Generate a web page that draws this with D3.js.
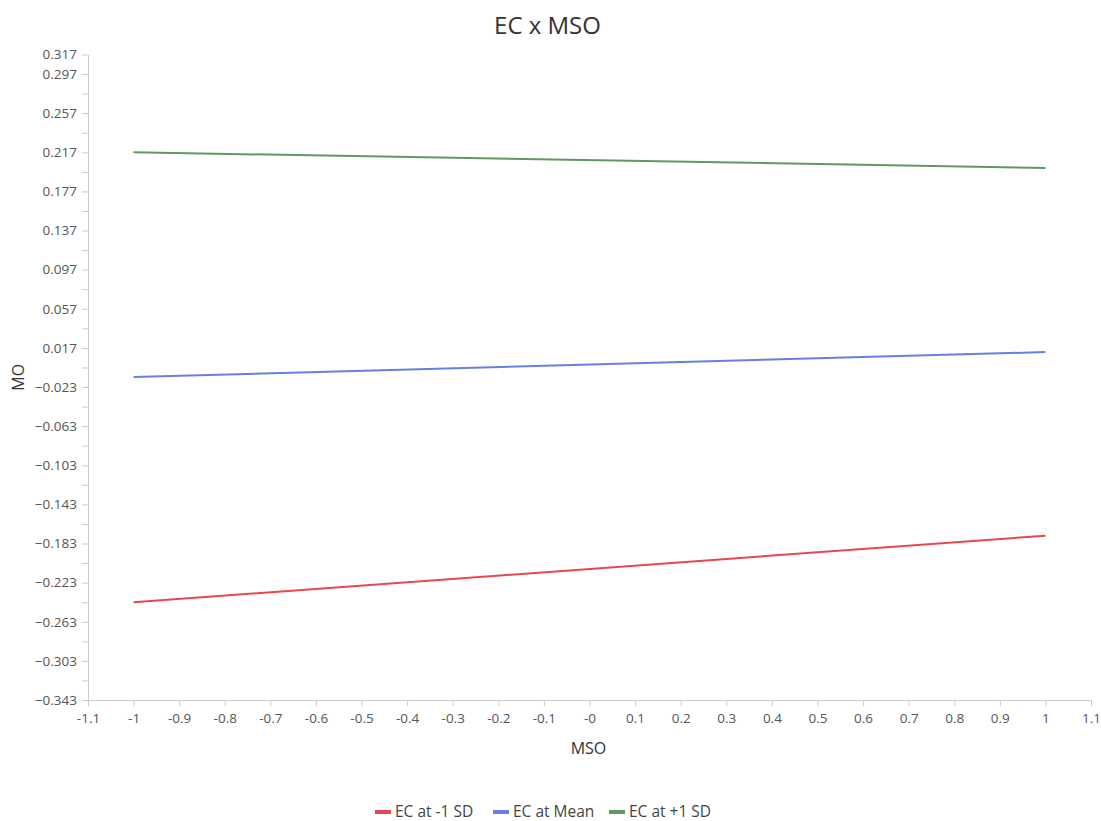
<!DOCTYPE html>
<html>
<head>
<meta charset="utf-8">
<script src="https://cdn.jsdelivr.net/npm/d3@7"></script>
<style>
  body { margin: 0; background: #fff; font-family: "Open Sans", "Noto Sans", sans-serif; }
  .axis text { fill: #555; font-size: 13.5px; font-family: "Open Sans", "Noto Sans", sans-serif; }
  .axis path, .axis line { stroke: #ccc; }
</style>
</head>
<body>
<div id="chart"></div>
<script>
// values
var xValues = [-1, 1];
var seriesNames = ["EC at -1 SD", "EC at Mean", "EC at +1 SD"];
var lowValues = [-0.243, -0.175];
var meanValues = [-0.0128, 0.0127];
var highValues = [0.217, 0.201];
var seriesColors = ["#e8474b", "#6580e6", "#5e9a5e"];

var xTicks = [-1.1, -1, -0.9, -0.8, -0.7, -0.6, -0.5, -0.4, -0.3, -0.2, -0.1, 0,
              0.1, 0.2, 0.3, 0.4, 0.5, 0.6, 0.7, 0.8, 0.9, 1, 1.1];
var xTickLabels = ["-1.1", "-1", "-0.9", "-0.8", "-0.7", "-0.6", "-0.5", "-0.4", "-0.3", "-0.2", "-0.1", "-0",
                   "0.1", "0.2", "0.3", "0.4", "0.5", "0.6", "0.7", "0.8", "0.9", "1", "1.1"];
var yLabelTicks = [0.317, 0.297, 0.257, 0.217, 0.177, 0.137, 0.097, 0.057, 0.017, -0.023,
                   -0.063, -0.103, -0.143, -0.183, -0.223, -0.263, -0.303, -0.343];
var yMinorTicks = [0.277, 0.237, 0.197, 0.157, 0.117, 0.077, 0.037, -0.003, -0.043,
                   -0.083, -0.123, -0.163, -0.203, -0.243, -0.283, -0.323];

var width = 1101, height = 821;
var margin = {top: 54.5, right: 10, bottom: 121, left: 88};

var svg = d3.select("#chart").append("svg")
    .attr("width", width)
    .attr("height", height);

var x = d3.scaleLinear().domain([-1.1, 1.1]).range([margin.left, width - margin.right]);
var y = d3.scaleLinear().domain([-0.343, 0.317]).range([height - margin.bottom, margin.top]);

svg.append("text")
    .attr("x", width / 2 - 3)
    .attr("y", 34)
    .attr("text-anchor", "middle")
    .style("font-size", "24px")
    .style("fill", "#333")
    .text("EC x MSO");

svg.append("g")
    .attr("class", "x axis")
    .attr("transform", "translate(0," + y(-0.343) + ")")
    .call(d3.axisBottom(x).tickValues(xTicks).tickSize(6).tickSizeOuter(0)
      .tickFormat(function(d, i) { return xTickLabels[i]; }))
    .selectAll("text").attr("dy", "1.05em");

svg.append("g")
    .attr("class", "y axis")
    .attr("transform", "translate(" + x(-1.1) + ",0)")
    .call(d3.axisLeft(y).tickValues(yLabelTicks).tickSize(6).tickPadding(5).tickSizeOuter(0)
      .tickFormat(d3.format(".3f")));

svg.append("g")
    .attr("class", "y axis minor")
    .attr("transform", "translate(" + x(-1.1) + ",0)")
    .call(d3.axisLeft(y).tickValues(yMinorTicks).tickSize(6).tickSizeOuter(0).tickFormat(""))
    .select(".domain").remove();

svg.append("text")
    .attr("x", x(0) - 1)
    .attr("y", 754)
    .attr("text-anchor", "middle")
    .style("font-size", "16px")
    .style("fill", "#333")
    .text("MSO");

svg.append("text")
    .attr("transform", "translate(24," + y(-0.013) + ") rotate(-90)")
    .attr("text-anchor", "middle")
    .style("font-size", "16px")
    .style("fill", "#333")
    .text("MO");

var series = [lowValues, meanValues, highValues];
var line = d3.line()
    .x(function(d, i) { return x(xValues[i]); })
    .y(function(d) { return y(d); });

svg.selectAll(".series")
    .data(series)
  .enter().append("path")
    .attr("class", "series")
    .attr("fill", "none")
    .attr("stroke", function(d, i) { return seriesColors[i]; })
    .attr("stroke-width", 2)
    .attr("d", line);

// legend
var legendStarts = [375, 493, 609];
var legend = svg.selectAll(".legend")
    .data(seriesNames)
  .enter().append("g")
    .attr("class", "legend")
    .attr("transform", function(d, i) { return "translate(" + legendStarts[i] + ",812)"; });

legend.append("line")
    .attr("x1", 0).attr("x2", 16)
    .attr("stroke", function(d, i) { return seriesColors[i]; })
    .attr("stroke-width", 4);

legend.append("text")
    .attr("x", 20)
    .attr("dy", "0.35em")
    .style("font-size", "15.5px")
    .style("fill", "#444")
    .text(function(d) { return d; });
</script>
</body>
</html>
